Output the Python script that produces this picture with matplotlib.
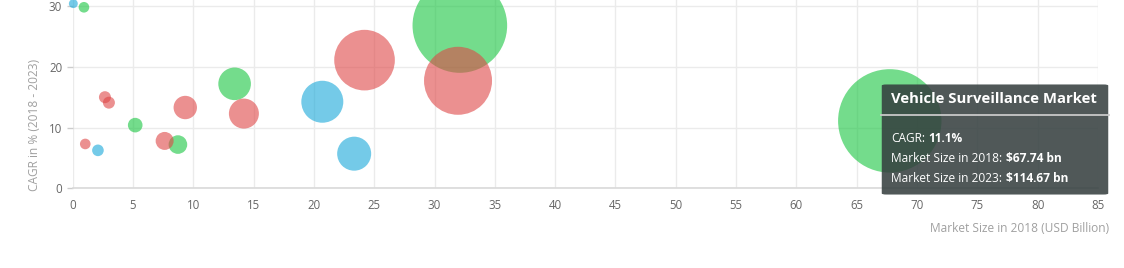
import numpy as np
import matplotlib
matplotlib.use("Agg")
from matplotlib import pyplot as plt
from matplotlib.patches import FancyBboxPatch
from matplotlib.lines import Line2D

plt.rcParams['font.family'] = ['Open Sans', 'DejaVu Sans']

# market size 2018 (USD bn), CAGR %, bubble size
red_x = [2.68, 3.01, 1.05, 7.63, 9.34, 14.2, 24.2, 31.95]
red_y = [15.0, 14.1, 7.3, 7.8, 13.3, 12.3, 21.1, 17.7]
red_z = [1.54, 1.54, 1.21, 3.47, 5.87, 9.65, 39.4, 49.6]

green_x = [0.94, 5.19, 8.73, 13.43, 32.1, 67.74]
green_y = [29.8, 10.4, 7.2, 17.2, 26.8, 11.1]
green_z = [1.21, 2.29, 3.71, 11.4, 96.0, 114.67]

blue_x = [0.06, 2.1, 20.7, 23.34]
blue_y = [30.4, 6.25, 14.25, 5.7]
blue_z = [0.85, 1.45, 18.9, 12.4]

x_ticks = np.arange(0, 90, 5)
y_ticks = [0, 10, 20, 30]

tip_title = "Vehicle Surveillance Market"
tip_rows = [("CAGR:", "11.1%"),
            ("Market Size in 2018:", "$67.74 bn"),
            ("Market Size in 2023:", "$114.67 bn")]

W, H = 1124, 268
fig = plt.figure(figsize=(W / 100, H / 100), dpi=100)
ax = fig.add_axes([72.6 / W, (H - 188.3) / H, (1098 - 72.6) / W, 188.3 / H])

# bubble area proportional to z; largest bubble ~51.7 px radius
def sizes(z):
    d = 2 * 51.7 * 0.72
    return d ** 2 * np.asarray(z) / 114.67

alpha = 0.6
ax.scatter(green_x, green_y, s=sizes(green_z), color=(23/255, 197/255, 63/255), alpha=alpha, lw=0, clip_on=False, zorder=3)
ax.scatter(blue_x, blue_y, s=sizes(blue_z), color=(23/255, 168/255, 217/255), alpha=alpha, lw=0, clip_on=False, zorder=3)
ax.scatter(red_x, red_y, s=sizes(red_z), color=(223/255, 70/255, 70/255), alpha=alpha, lw=0, clip_on=False, zorder=4)

ax.set_xlim(0, 85)
ax.set_ylim(0, 31)
ax.set_xticks(x_ticks)
ax.set_yticks(y_ticks)
ax.grid(True, color='#ebebeb', lw=1)
ax.set_axisbelow(True)
for s in ['top', 'right', 'left']:
    ax.spines[s].set_visible(False)
ax.spines['bottom'].set_color('#d9d9d9')
ax.spines['bottom'].set_linewidth(1.2)
ax.tick_params(axis='x', length=0, pad=7.5, labelsize=8.3, labelcolor='#666666')
ax.tick_params(axis='y', length=4.5, width=1, color='#cccccc', pad=3, labelsize=8.3, labelcolor='#666666')

ax.set_ylabel("CAGR in % (2018 - 2023)", fontsize=8.6, color='#a0a0a0')
ax.yaxis.set_label_coords(-0.0308, 0.336)
fig.text(1109 / W, 1 - 228 / H, "Market Size in 2018 (USD Billion)", ha='right', va='center',
         fontsize=8.6, color='#a0a0a0')

# tooltip
def fx(px):
    return px / W

def fy(py):
    return 1 - py / H

box = FancyBboxPatch((fx(884), fy(194)), fx(1106) - fx(884), fy(85) - fy(194),
                     boxstyle="round,pad=0.002,rounding_size=0.004", transform=fig.transFigure,
                     facecolor=(0.2, 0.24, 0.24), alpha=0.86, edgecolor='none', zorder=10)
fig.add_artist(box)
fig.add_artist(Line2D([fx(881), fx(1109)], [fy(115), fy(115)], transform=fig.transFigure,
                      color='#c8c8c8', lw=1.3, zorder=11))
fig.text(fx(891), fy(99), tip_title, ha='left', va='center', fontsize=10.7,
         fontweight='bold', color='white', zorder=12)

fig.canvas.draw()
renderer = fig.canvas.get_renderer()
for i, (lab, val) in enumerate(tip_rows):
    yy = fy([139, 158, 178][i])
    t = fig.text(fx(891), yy, lab, ha='left', va='center', fontsize=8.6, color='white', zorder=12)
    ext = t.get_window_extent(renderer)
    fig.text(fx(ext.x1 + 3.5), yy, val, ha='left', va='center', fontsize=8.6,
             fontweight='bold', color='white', zorder=12)

fig.savefig("out.png", dpi=100)
